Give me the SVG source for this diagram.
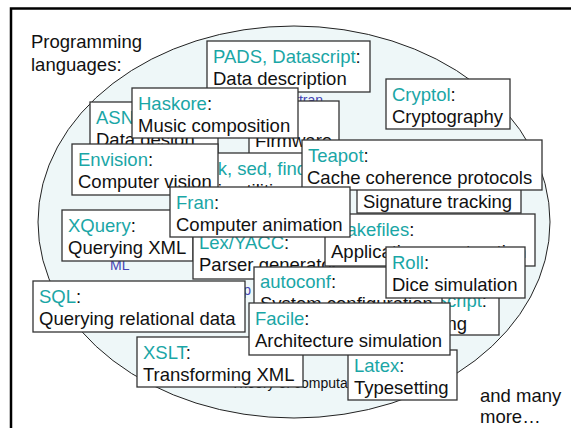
<svg xmlns="http://www.w3.org/2000/svg" width="571" height="428" viewBox="0 0 571 428">
<style>
text{font-family:"Liberation Sans",Arial,sans-serif;font-size:18.5px;fill:#111}
.n{fill:#1aa6a6}
.b{fill:#fff;stroke:#333;stroke-width:1.3}
.s{font-size:14px;fill:#4444b4}
.k{font-size:14px;fill:#111}
</style>
<rect x="0" y="0" width="571" height="428" fill="#fff"/>
<rect x="11" y="8.5" width="600" height="500" fill="none" stroke="#000" stroke-width="2.5"/>
<ellipse cx="294" cy="222" rx="256" ry="196" fill="#eef7f8" stroke="#222" stroke-width="1"/>
<text x="31" y="48">Programming</text>
<text x="31" y="71">languages:</text>
<text x="480" y="402">and many</text>
<text x="480" y="423">more…</text>
<text class="s" x="323" y="105" text-anchor="end">Fortran</text>
<text class="s" x="110" y="270">ML</text>
<text class="s" x="251" y="295" text-anchor="end">Lisp</text>
<text class="k" x="231" y="388">Theory of computation</text>
<g id="connectors"/>
<g id="asn"><rect class="b" x="90" y="102" width="128" height="62"/><text x="96" y="123.5"><tspan class="n">ASN.1</tspan>:</text><text x="96" y="145.5">Data design</text></g>
<g id="firmware"><rect class="b" x="249" y="101" width="90" height="70"/><text x="255" y="147">Firmware</text></g>
<g id="pads"><rect class="b" x="207" y="41" width="163" height="51"/><text x="213" y="62.5"><tspan class="n">PADS, Datascript</tspan>:</text><text x="213" y="84.5">Data description</text></g>
<g id="haskore"><rect class="b" x="132" y="88" width="166" height="50"/><text x="138" y="109.5"><tspan class="n">Haskore</tspan>:</text><text x="138" y="131.5">Music composition</text></g>
<g id="cryptol"><rect class="b" x="386" y="79" width="124" height="50"/><text x="392" y="100.5"><tspan class="n">Cryptol</tspan>:</text><text x="392" y="122.5">Cryptography</text></g>
<g id="awk"><rect class="b" x="190" y="153" width="125" height="50"/><text x="194" y="174.5"><tspan class="n">awk, sed, find</tspan>:</text><text x="194" y="196.5">Unix utilities</text></g>
<g id="envision"><rect class="b" x="72" y="144" width="146" height="51"/><text x="78" y="165.5"><tspan class="n">Envision</tspan>:</text><text x="78" y="187.5">Computer vision</text></g>
<g id="signature"><rect class="b" x="357" y="165" width="164" height="48"/><text x="363" y="208">Signature tracking</text></g>
<g id="teapot"><rect class="b" x="302" y="140" width="240" height="50"/><text x="308" y="161.5"><tspan class="n">Teapot</tspan>:</text><text x="307" y="183.5">Cache coherence protocols</text></g>
<g id="xquery"><rect class="b" x="62" y="210" width="131" height="51"/><text x="68" y="231.5"><tspan class="n">XQuery</tspan>:</text><text x="68" y="253.5">Querying XML</text></g>
<g id="lex"><rect class="b" x="193" y="228" width="140" height="51"/><text x="199" y="249"><tspan class="n">Lex/YACC</tspan>:</text><text x="199" y="271">Parser generator</text></g>
<g id="makefiles"><rect class="b" x="325" y="214" width="210" height="52"/><text x="331" y="235.5"><tspan class="n">Makefiles</tspan>:</text><text x="331" y="257.5">Application construction</text></g>
<g id="fran"><rect class="b" x="170" y="187" width="180" height="50"/><text x="176" y="208.5"><tspan class="n">Fran</tspan>:</text><text x="176" y="230.5">Computer animation</text></g>
<g id="script"><rect class="b" x="420" y="285" width="79" height="50"/><text x="487" y="307" text-anchor="end"><tspan class="n">PostScript</tspan>:</text><text x="467" y="330" text-anchor="end">Printing</text></g>
<g id="autoconf"><rect class="b" x="254" y="267" width="188" height="51"/><text x="260" y="288"><tspan class="n">autoconf</tspan>:</text><text x="260" y="310">System configuration</text></g>
<g id="roll"><rect class="b" x="386" y="247" width="139" height="51"/><text x="392" y="268.5"><tspan class="n">Roll</tspan>:</text><text x="392" y="291">Dice simulation</text></g>
<g id="latex"><rect class="b" x="348" y="350" width="109" height="50"/><text x="354" y="371.5"><tspan class="n">Latex</tspan>:</text><text x="354" y="393.5">Typesetting</text></g>
<g id="sql"><rect class="b" x="33" y="281" width="212" height="51"/><text x="39" y="302.5"><tspan class="n">SQL</tspan>:</text><text x="39" y="324.5">Querying relational data</text></g>
<g id="xslt"><rect class="b" x="137" y="337" width="166" height="50"/><text x="143" y="358.5"><tspan class="n">XSLT</tspan>:</text><text x="143" y="380.5">Transforming XML</text></g>
<g id="facile"><rect class="b" x="249" y="303" width="201" height="52"/><text x="255" y="324.5"><tspan class="n">Facile</tspan>:</text><text x="255" y="346.5">Architecture simulation</text></g>
</svg>
